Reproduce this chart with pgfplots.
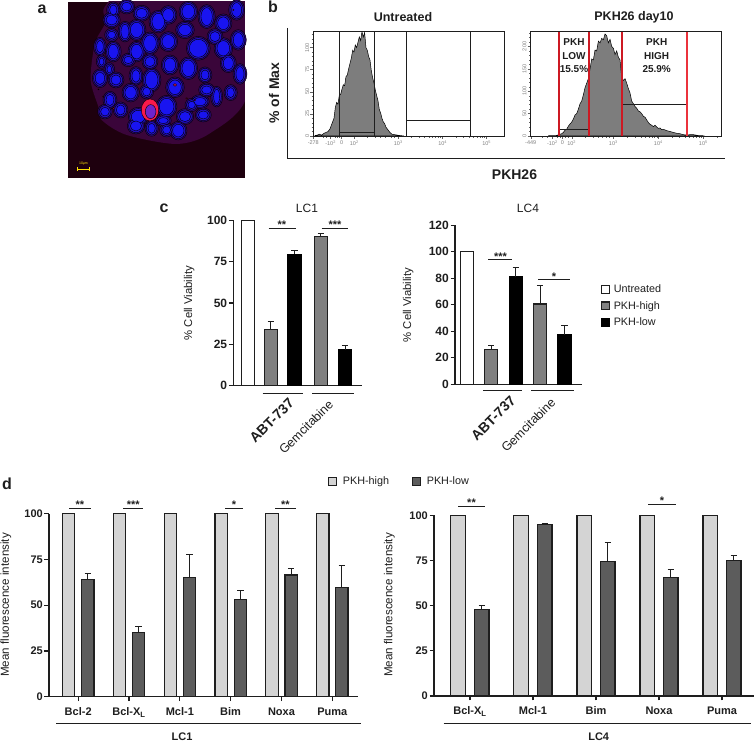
\documentclass[border=0pt]{standalone}
\usepackage{pgfplots}
\pgfplotsset{compat=1.18}
\usepackage{fontspec}
\setmainfont{Liberation Sans}
\definecolor{hgray}{RGB}{125,125,125}
\definecolor{cgray}{RGB}{128,128,128}
\definecolor{lgray}{RGB}{212,212,212}
\definecolor{dgray}{RGB}{92,92,92}
\definecolor{ink}{RGB}{30,30,30}
\definecolor{gred}{RGB}{205,25,35}
\definecolor{bred}{RGB}{235,50,60}
\definecolor{nuc}{RGB}{25,20,240}
\definecolor{nucm}{RGB}{35,15,190}
\definecolor{nucd}{RGB}{45,8,115}
\definecolor{hazebg}{RGB}{58,5,58}
\definecolor{offbg}{RGB}{30,0,14}
\definecolor{hot}{RGB}{250,25,75}
\definecolor{hotin}{RGB}{110,35,205}
\newcommand{\fs}[1]{\fontsize{#1}{#1}\selectfont}
\pgfplotsset{
  barax/.style={
    scale only axis, clip=false, axis x line*=bottom, axis y line*=left,
    axis line style={-,line width=1.2pt,draw=ink}, tick align=outside,
    major tick length=4.5pt, tick style={line width=1.2pt,draw=ink},
    ymin=0, ybar, bar shift=0pt,
    /pgf/number format/assume math mode=true,
    ticklabel style={text=ink},
    yticklabel style={inner sep=1.5pt},
  },
  ebar/.style={error bars/.cd, y dir=plus, y explicit,
    error bar style={line width=1pt,draw=ink},
    error mark options={rotate=90,mark size=3.2pt,line width=1pt,draw=ink}},
  histax/.style={
    scale only axis, xmin=160, xmax=733, ymin=0, axis line style={draw=ink,line width=.6pt},
    tick align=outside, xtick pos=bottom, ytick pos=left,
    major tick length=3pt, minor tick length=1.7pt,
    tick style={draw=ink!70,line width=.4pt},
    /pgf/number format/assume math mode=true,
    ticklabel style={text=gray,font=\fs{5.5}},
    yticklabel style={rotate=90,anchor=south,inner sep=1pt},
    xticklabel style={inner sep=1.5pt},
  },
}
\begin{document}
\begin{tikzpicture}[x=1pt,y=1pt]
\useasboundingbox (0,0) rectangle (756,742);

% ---------- panel a ----------
\begin{axis}[at={(68.3pt,563.7pt)},anchor=south west,scale only axis,width=176.7pt,height=176.7pt,
  xmin=25,xmax=555,ymin=5,ymax=535,y dir=reverse,ticks=none,
  axis line style={draw=none},axis background/.style={fill=offbg}]
\addplot[draw=none,fill=hazebg,smooth] coordinates {(150,0)(130,30)(135,70)(105,130)(92,240)(115,320)(125,360)(200,405)(350,432)(450,400)(560,290)(560,0)} -- cycle;
\pgfplotsset{nuclayer/.style 2 args={only marks,mark=*,scatter,point meta=\thisrow{ry},
  scatter/use mapped color={fill=#2,draw=none},
  visualization depends on={(\thisrow{ry}+#1)/3 \as \myr},
  visualization depends on={(\thisrow{rx}+#1)/(\thisrow{ry}+#1) \as \myx},
  scatter/@pre marker code/.append style={/tikz/mark size=\myr pt,/tikz/xscale=\myx}}}
\pgfplotstableread{
x y rx ry
200 20 18 16
160 30 14 18
155 60 20 18
245 40 20 18
295 65 22 28
325 45 20 22
385 35 22 25
440 50 20 30
490 70 20 22
530 30 18 25
195 95 15 25
230 90 22 26
155 105 15 14
120 140 13 22
160 155 18 25
270 130 22 28
325 125 22 24
375 90 22 20
415 145 30 30
490 145 22 26
465 110 18 18
535 120 18 25
230 155 20 25
205 180 16 14
125 185 10 14
148 208 10 14
120 235 17 22
168 240 18 18
228 228 15 22
270 185 18 18
330 195 20 24
385 205 22 28
435 225 15 18
505 190 18 22
540 222 15 25
275 240 22 30
212 278 20 22
260 275 15 16
345 262 22 25
150 300 15 20
182 330 16 18
135 335 16 16
235 350 24 22
228 378 20 18
275 385 14 18
320 320 25 28
375 350 20 18
420 305 22 15
470 290 12 25
512 278 14 18
430 345 18 15
310 362 18 12
355 392 20 22
320 390 15 15
440 270 18 15
395 315 14 14
}\nuctable
\addplot[nuclayer={6}{nucd}] table[x=x,y=y]{\nuctable};
\addplot[nuclayer={2}{nucm}] table[x=x,y=y]{\nuctable};
\addplot[nuclayer={-3}{nuc}] table[x=x,y=y]{\nuctable};
% red labelled cell
\addplot[nuclayer={0}{hot}] table[x=x,y=y]{
x y rx ry
270 330 26 33
};
\addplot[nuclayer={0}{hotin}] table[x=x,y=y]{
x y rx ry
272 335 16 21
};
\addplot[nuclayer={0}{hot}] table[x=x,y=y]{
x y rx ry
345 255 5 4
160 325 3 3
130 290 2 2
115 268 2 2
380 295 3 2
405 300 2 2
520 30 2 2
};
\end{axis}

% ---------- panel b ----------
\begin{axis}[histax,at={(313.3pt,606pt)},anchor=south west,width=191pt,height=104.3pt,ymax=118,
  xtick={160,212,245,283,415,548,680},
  xticklabels={-278,-10\textsuperscript{2},0,10\textsuperscript{2},10\textsuperscript{3},10\textsuperscript{4},10\textsuperscript{5}},
  minor xtick={190,200,225,232,238,323,346,362,375,395,403,455,478,494,507,518,527,535,541,588,611,627,640,651,660,668,674},
  ytick={0,25,50,75,100},minor ytick={5,10,15,20,30,35,40,45,55,60,65,70,80,85,90,95,105,110,115}]
\addplot[fill=hgray,draw=black,line width=.5pt] table {
165 0.5
172 1
178 2
185 1
192 3
198 4
204 5
210 8
216 14
222 20
226 32
230 38
234 36
238 46
242 47
246 53
250 58
254 57
258 67
262 69
266 76
270 82
274 88
278 97
282 95
286 103
290 100
294 106
298 112
302 108
306 118
310 112
314 117
318 100
322 97
326 90
330 86
334 74
338 66
342 60
346 52
350 46
354 40
358 30
362 26
366 20
370 16
374 14
378 10
384 7
390 4
396 2
404 1.5
412 1
420 0.5
432 0
} \closedcycle;
\addplot[draw=ink,line width=.7pt,sharp plot] coordinates {(238,118)(238,0)};
\addplot[draw=ink,line width=.7pt,sharp plot] coordinates {(344,118)(344,0)};
\addplot[draw=ink,line width=.7pt,sharp plot] coordinates {(238,4.2)(344,4.2)};
\addplot[draw=ink,line width=.7pt,sharp plot] coordinates {(438,118)(438,0)};
\addplot[draw=ink,line width=.7pt,sharp plot] coordinates {(632,118)(632,0)};
\addplot[draw=ink,line width=.7pt,sharp plot] coordinates {(438,18.1)(632,18.1)};
\end{axis}

\begin{axis}[histax,at={(530.7pt,606pt)},anchor=south west,width=191pt,height=104.3pt,ymax=233,
  xmin=812,xmax=1385,
  xtick={812,877,907,935,1060,1195,1330},
  xticklabels={-449,-10\textsuperscript{2},0,10\textsuperscript{2},10\textsuperscript{3},10\textsuperscript{4},10\textsuperscript{5}},
  minor xtick={845,862,890,900,915,925,975,998,1014,1027,1038,1047,1100,1125,1142,1155,1166,1175,1183,1190,1235,1258,1275,1288,1299,1308,1316,1323,1370},
  ytick={0,50,100,150,200},minor ytick={10,20,30,40,60,70,80,90,110,120,130,140,160,170,180,190,210,220,230}]
\addplot[fill=hgray,draw=black,line width=.5pt] table {
865 0.5
875 1
885 0.5
893 2
900 4
905 5
910 8
915 13
920 15
925 22
930 27
935 31
940 38
945 47
950 50
955 60
960 72
965 78
970 92
975 108
980 118
985 128
990 150
995 172
1000 170
1005 192
1010 190
1015 212
1020 208
1025 218
1030 215
1035 228
1040 224
1045 208
1050 216
1055 200
1060 196
1065 182
1070 190
1075 176
1080 170
1085 130
1090 124
1095 128
1100 118
1105 106
1110 96
1115 78
1120 72
1125 66
1130 62
1135 56
1140 54
1145 50
1150 44
1155 42
1160 36
1165 30
1170 26
1175 24
1180 21
1185 24
1190 20
1195 17
1200 18
1205 14
1210 15
1220 12
1230 10
1240 8
1250 6
1260 5
1270 3
1280 2
1290 3
1300 3
1315 1
1330 0.5
1332 0
} \closedcycle;
\addplot[draw=ink,line width=.7pt,sharp plot] coordinates {(900,15.7)(986,15.7)};
\addplot[draw=ink,line width=.7pt,sharp plot] coordinates {(1087,70)(1281,70)};
\addplot[draw=gred,line width=1.8pt,sharp plot] coordinates {(898,233)(898,0)};
\addplot[draw=gred,line width=1.8pt,sharp plot] coordinates {(986,233)(986,0)};
\addplot[draw=gred,line width=1.8pt,sharp plot] coordinates {(1085,233)(1085,0)};
\addplot[draw=bred,line width=1.4pt,sharp plot] coordinates {(1281,233)(1281,0)};
\end{axis}

% ---------- panel c ----------
\begin{axis}[barax,at={(233.3pt,356.3pt)},anchor=south west,width=128.7pt,height=165.4pt,
  xmin=0,xmax=128.7,ymax=100,xtick=\empty,ytick={0,25,50,75,100},bar width=13pt,
  ticklabel style={font=\fs{12}\bfseries}]
\addplot[fill=white,draw=ink,line width=1.3pt,ebar] table[x=x,y=y,y error=e]{
x y e
14.5 100 0
};
\addplot[fill=cgray,draw=ink,line width=1.3pt,ebar] table[x=x,y=y,y error=e]{
x y e
37.5 34 5
87.5 90 2
};
\addplot[fill=black,draw=black,line width=1.3pt,ebar] table[x=x,y=y,y error=e]{
x y e
61.2 79.5 2.5
111.7 21.5 2.5
};
\end{axis}

\begin{axis}[barax,at={(455pt,357.7pt)},anchor=south west,width=127.3pt,height=159pt,
  xmin=0,xmax=127.3,ymax=120,xtick=\empty,ytick={0,20,40,60,80,100,120},bar width=13pt,
  ticklabel style={font=\fs{12}\bfseries},
  legend style={at={(1.147,0.625)},anchor=north west,draw=none,fill=none,inner sep=0pt,outer sep=0pt,
    font=\fs{10.8},text=ink,row sep=7pt,
    nodes={inner sep=0pt,anchor=west}},
  legend image code/.code={\draw[#1,line width=1.2pt,bar shift=0pt] (0pt,-3.9pt) rectangle (8pt,3.9pt); \path (11.5pt,0pt);},
  legend cell align=left]
\addplot[fill=white,draw=ink,line width=1.3pt,ebar] table[x=x,y=y,y error=e]{
x y e
11.8 100 0
};
\addlegendentry{Untreated}
\addplot[fill=cgray,draw=ink,line width=1.3pt,ebar] table[x=x,y=y,y error=e]{
x y e
36.2 26 3
85 60.5 14
};
\addlegendentry{PKH-high}
\addplot[fill=black,draw=black,line width=1.3pt,ebar] table[x=x,y=y,y error=e]{
x y e
60.7 81 7
109.5 37.5 6.5
};
\addlegendentry{PKH-low}
\end{axis}

% ---------- panel d ----------
\begin{axis}[barax,at={(49pt,45.3pt)},anchor=south west,width=309.3pt,height=183pt,
  xmin=-0.574,xmax=5.512,ymax=100,xtick={0,1,2,3,4,5},
  xticklabels={Bcl-2,Bcl-X\textsubscript{L},Mcl-1,Bim,Noxa,Puma},ytick={0,25,50,75,100},
  bar width=12.3pt,ticklabel style={font=\fs{11}\bfseries},
  xticklabel style={anchor=base,yshift=-14.5pt,inner sep=0pt},
  legend columns=2,
  legend style={at={(0.902,1.176)},anchor=west,draw=none,fill=none,inner sep=0pt,
    font=\fs{10.8},text=ink,
    /tikz/every even column/.append style={column sep=23pt},
    nodes={inner sep=0pt,anchor=west}},
  legend image code/.code={\draw[#1,line width=1.2pt] (0pt,-3.9pt) rectangle (8pt,3.9pt); \path (13.5pt,0pt);},
  ]
\addplot[fill=lgray,draw=ink,line width=1.2pt,bar shift=-9.5pt,ebar] table[x=x,y=y,y error=e]{
x y e
0 100 0
1 100 0
2 100 0
3 100 0
4 100 0
5 100 0
};
\addlegendentry{PKH-high}
\addplot[fill=dgray,draw=ink,line width=1.2pt,bar shift=9.67pt,ebar] table[x=x,y=y,y error=e]{
x y e
0 64 3.5
1 35 3.5
2 65 12.5
3 53 5
4 66.5 3.5
5 59.5 12
};
\addlegendentry{PKH-low}
\end{axis}

\begin{axis}[barax,at={(434pt,46pt)},anchor=south west,width=320.3pt,height=180.7pt,
  xmin=-0.571,xmax=4.513,ymax=100,xtick={0,1,2,3,4},
  xticklabels={Bcl-X\textsubscript{L},Mcl-1,Bim,Noxa,Puma},ytick={0,25,50,75,100},
  bar width=14.5pt,ticklabel style={font=\fs{11}\bfseries},
  xticklabel style={anchor=base,yshift=-14.5pt,inner sep=0pt}]
\addplot[fill=lgray,draw=ink,line width=1.2pt,bar shift=-11.83pt,ebar] table[x=x,y=y,y error=e]{
x y e
0 100 0
1 100 0
2 100 0
3 100 0
4 100 0
};
\addplot[fill=dgray,draw=ink,line width=1.2pt,bar shift=11.83pt,ebar] table[x=x,y=y,y error=e]{
x y e
0 48 2
1 95 0.7
2 74.5 10.5
3 65.5 4.5
4 75 3
};
\end{axis}

% ---------- annotations, in pixels from the top left ----------
\begin{scope}[x=1pt,y=-1pt,shift={(0pt,742pt)},every node/.style={inner sep=0pt,outer sep=0pt,text=ink}]
% panel letters
\node[font=\fs{16}\bfseries,anchor=base] at (42,14) {a};
\node[font=\fs{16}\bfseries,anchor=base] at (273,13) {b};
\node[font=\fs{16}\bfseries,anchor=base] at (164,213) {c};
\node[font=\fs{16}\bfseries,anchor=base] at (7,490) {d};
% scale bar in a
\draw[yellow!85!orange,line width=.7pt] (77.5,169.3)--(89.3,169.3) (77.5,167.5)--(77.5,171) (89.3,167.5)--(89.3,171);
\node[text=yellow!85!orange,font=\fs{3.5}] at (83.5,163.5) {10µm};
% b frame and text
\draw[ink,line width=1.3pt] (287.3,28)--(287.3,158.7)--(725,158.7);
\node[font=\fs{12.5}\bfseries] at (403,17) {Untreated};
\node[font=\fs{12.5}\bfseries] at (634,17) {PKH26 day10};
\node[font=\fs{14}\bfseries,rotate=90] at (274,93) {\% of Max};
\node[font=\fs{14}\bfseries] at (514.5,174.5) {PKH26};
\node[font=\fs{10}\bfseries] at (574,41.7) {PKH};
\node[font=\fs{10}\bfseries] at (574,55.7) {LOW};
\node[font=\fs{10}\bfseries] at (574,69) {15.5\%};
\node[font=\fs{10}\bfseries] at (656.7,41.7) {PKH};
\node[font=\fs{10}\bfseries] at (656.7,55.7) {HIGH};
\node[font=\fs{10}\bfseries] at (656.7,69) {25.9\%};
% c
\node[font=\fs{12}] at (307,208) {LC1};
\node[font=\fs{12}] at (528,208) {LC4};
\node[font=\fs{11.3},rotate=90] at (189.3,303) {\% Cell Viability};
\node[font=\fs{11.3},rotate=90] at (408.3,305) {\% Cell Viability};
\draw[ink,line width=1pt] (268.7,228.3)--(295.7,228.3) (321.7,228.3)--(348.3,228.3);
\node[font=\fs{11}\bfseries,anchor=base] at (282,229) {**};
\node[font=\fs{11}\bfseries,anchor=base] at (335,229) {***};
\draw[ink,line width=1pt] (488,259.7)--(512.3,259.7) (538.3,280)--(570,280);
\node[font=\fs{11}\bfseries,anchor=base] at (500.5,260.4) {***};
\node[font=\fs{11}\bfseries,anchor=base] at (554,280.7) {*};
\draw[ink,line width=1pt] (262.7,394)--(302.7,394) (312.3,394)--(354.3,394);
\draw[ink,line width=1pt] (483.3,391)--(522,391) (531.3,391)--(574.3,391);
\node[font=\fs{14}\bfseries,rotate=45] at (271.7,420.7) {ABT-737};
\node[font=\fs{12.5},rotate=45] at (306,427) {Gemcitabine};
\node[font=\fs{14}\bfseries,rotate=45] at (493.3,418.3) {ABT-737};
\node[font=\fs{12.5},rotate=45] at (528.3,425) {Gemcitabine};
% d
\node[font=\fs{11.6},rotate=90] at (6,605) {Mean fluorescence intensity};
\node[font=\fs{11.6},rotate=90] at (389.3,605) {Mean fluorescence intensity};
\draw[ink,line width=1pt] (69.3,508.3)--(90.7,508.3) (123.3,508.3)--(143.3,508.3) (225,508.3)--(242.7,508.3) (275,508.3)--(295.7,508.3);
\node[font=\fs{11}\bfseries,anchor=base] at (80,509) {**};
\node[font=\fs{11}\bfseries,anchor=base] at (133.3,509) {***};
\node[font=\fs{11}\bfseries,anchor=base] at (234,509) {*};
\node[font=\fs{11}\bfseries,anchor=base] at (285.3,509) {**};
\draw[ink,line width=1pt] (458.3,506.3)--(484.7,506.3) (648.3,504.3)--(676,504.3);
\node[font=\fs{11}\bfseries,anchor=base] at (471.5,507) {**};
\node[font=\fs{11}\bfseries,anchor=base] at (662,505) {*};
\draw[ink,line width=1pt] (56,723.3)--(361,723.3) (443.7,723.3)--(751,723.3);
\node[font=\fs{11}\bfseries] at (182,736.7) {LC1};
\node[font=\fs{11}\bfseries] at (598.7,736.7) {LC4};
\end{scope}
\end{tikzpicture}
\end{document}
